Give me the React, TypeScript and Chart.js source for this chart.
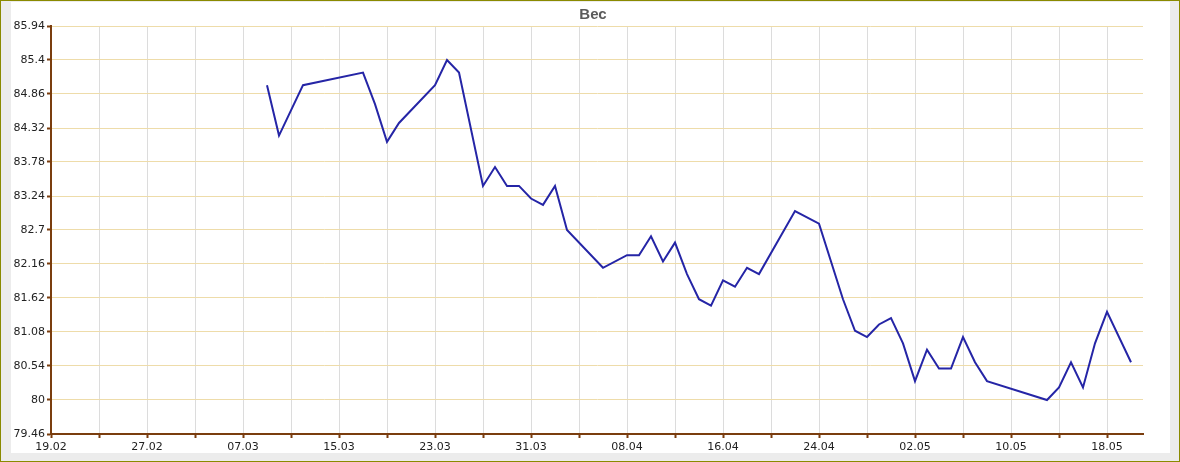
import React, { useEffect, useRef } from 'react';
import { Chart, registerables } from 'chart.js';

Chart.register(...registerables);

// ---- data ----
const dates = [
  '09.03', '10.03', '12.03', '17.03', '18.03', '19.03', '20.03', '23.03', '24.03', '25.03',
  '27.03', '28.03', '29.03', '30.03', '31.03', '01.04', '02.04', '03.04', '06.04', '08.04',
  '09.04', '10.04', '11.04', '12.04', '13.04', '14.04', '15.04', '16.04', '17.04', '18.04',
  '19.04', '22.04', '24.04', '26.04', '27.04', '28.04', '29.04', '30.04', '01.05', '02.05',
  '03.05', '04.05', '05.05', '06.05', '07.05', '08.05', '13.05', '14.05', '15.05', '16.05',
  '17.05', '18.05', '20.05',
];
const weights = [
  85.0, 84.2, 85.0, 85.2, 84.7, 84.1, 84.4, 85.0, 85.4, 85.2,
  83.4, 83.7, 83.4, 83.4, 83.2, 83.1, 83.4, 82.7, 82.1, 82.3,
  82.3, 82.6, 82.2, 82.5, 82.0, 81.6, 81.5, 81.9, 81.8, 82.1,
  82.0, 83.0, 82.8, 81.6, 81.1, 81.0, 81.2, 81.3, 80.9, 80.3,
  80.8, 80.5, 80.5, 81.0, 80.6, 80.3, 80.0, 80.2, 80.6, 80.2,
  80.9, 81.4, 80.6,
];
const yTicks = [79.46, 80, 80.54, 81.08, 81.62, 82.16, 82.7, 83.24, 83.78, 84.32, 84.86, 85.4, 85.94];
const xTickLabels = ['19.02', '27.02', '07.03', '15.03', '23.03', '31.03', '08.04', '16.04', '24.04', '02.05', '10.05', '18.05'];
const chartTitle = 'Вес';

// days before the 1st of each month, counted from 1 Feb (non-leap year); axis starts on 19.02
const daysBeforeMonth: Record<number, number> = { 2: 0, 3: 28, 4: 59, 5: 89 };
const startDay = 19;
const xMaxDay = 91;

function dayIndex(s: string): number {
  const [d, m] = s.split('.').map(Number);
  return daysBeforeMonth[m] + d - startDay;
}

const BROWN = '#7a3d0e';
const FONT = '"DejaVu Sans", Verdana, sans-serif';

const titlePlugin = {
  id: 'centeredTitle',
  afterDraw(chart: any) {
    const ctx = chart.ctx;
    ctx.save();
    ctx.font = 'bold 15px "Liberation Sans", Arial, sans-serif';
    ctx.fillStyle = '#5b5b5b';
    ctx.textAlign = 'center';
    ctx.textBaseline = 'middle';
    ctx.fillText(chartTitle, 593, 15);
    ctx.restore();
  },
};

export default function App() {
  const ref = useRef<HTMLCanvasElement | null>(null);

  useEffect(() => {
    const canvas = ref.current;
    if (!canvas) return;
    const points = dates.map((d, i) => ({ x: dayIndex(d), y: weights[i] }));
    const xTickValues: number[] = [];
    for (let i = 0; i < xTickLabels.length * 2 - 1; i++) xTickValues.push(i * 4);

    const chart = new Chart(canvas, {
      type: 'line',
      data: {
        datasets: [
          {
            label: chartTitle,
            data: points,
            borderColor: '#2525a6',
            borderWidth: 2,
            pointRadius: 0,
            tension: 0,
            fill: false,
          },
        ],
      },
      plugins: [titlePlugin],
      options: {
        animation: false,
        responsive: false,
        devicePixelRatio: 1,
        layout: { padding: { left: 0, right: 37, top: 26, bottom: 0 } },
        plugins: {
          legend: { display: false },
          tooltip: { enabled: false },
          title: { display: false },
        },
        scales: {
          x: {
            type: 'linear',
            min: 0,
            max: xMaxDay,
            afterBuildTicks: (s: any) => {
              s.ticks = xTickValues.map((v) => ({ value: v }));
            },
            afterFit: (s: any) => {
              s.height = 28;
            },
            ticks: {
              autoSkip: false,
              maxRotation: 0,
              padding: 3,
              color: '#222',
              font: { family: FONT, size: 11 },
              callback: (_v: any, i: number) => (i % 2 === 0 ? xTickLabels[i / 2] : ''),
            },
            grid: {
              color: '#dcdcdc',
              lineWidth: 1,
              tickColor: BROWN,
              tickWidth: 2,
              tickLength: 4,
            },
            border: { color: BROWN, width: 2 },
          },
          y: {
            type: 'linear',
            min: yTicks[0],
            max: yTicks[yTicks.length - 1],
            afterBuildTicks: (s: any) => {
              s.ticks = yTicks.map((v) => ({ value: v }));
            },
            afterFit: (s: any) => {
              s.width = 51;
            },
            ticks: {
              autoSkip: false,
              padding: 2,
              color: '#222',
              font: { family: FONT, size: 11 },
              callback: (_v: any, i: number) => String(yTicks[i]),
            },
            grid: {
              color: '#eedcaa',
              lineWidth: 1,
              tickColor: BROWN,
              tickWidth: 2,
              tickLength: 4,
            },
            border: { color: BROWN, width: 2 },
          },
        },
      },
    } as any);
    return () => chart.destroy();
  }, []);

  return (
    <div style={{ position: 'absolute', left: 0, top: 0, width: 1180, height: 462 }}>
      <div
        style={{
          position: 'absolute',
          left: 0,
          top: 0,
          width: 1180,
          height: 462,
          boxSizing: 'border-box',
          border: '1px solid #8a8a00',
          background: '#ececec',
        }}
      >
        <div style={{ position: 'absolute', left: 10, top: 1, width: 1159, height: 451, background: '#ffffff' }} />
      </div>
      <canvas
        ref={ref}
        width={1180}
        height={462}
        style={{ position: 'absolute', left: 0, top: 0, width: 1180, height: 462 }}
      />
    </div>
  );
}
